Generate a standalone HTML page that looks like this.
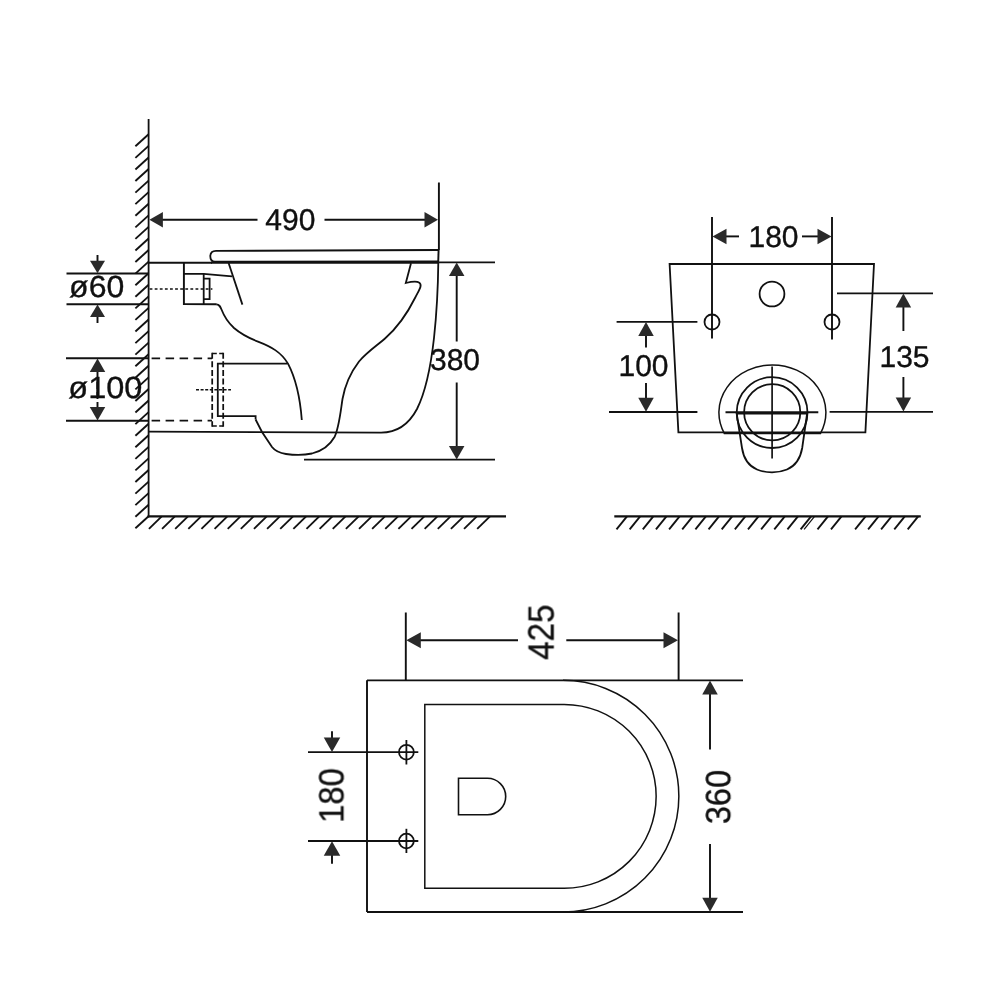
<!DOCTYPE html>
<html lang="en"><head><meta charset="utf-8"><title>Wall hung toilet dimensions</title>
<style>
html,body{margin:0;padding:0;background:#fff;}
body{width:1000px;height:1000px;overflow:hidden;}
svg{display:block;}
svg text{font-family:"Liberation Sans",sans-serif;fill:#101010;stroke:#101010;stroke-width:0.35px;text-rendering:geometricPrecision;}
</style></head><body>
<svg width="1000" height="1000" viewBox="0 0 1000 1000" fill="none" stroke="#111111" stroke-linecap="butt" stroke-linejoin="miter">
<rect x="0" y="0" width="1000" height="1000" fill="#ffffff" stroke="none"/>
<line x1="148.60" y1="119.00" x2="148.60" y2="517.30" stroke-width="1.80" />
<line x1="147.70" y1="516.30" x2="506.00" y2="516.30" stroke-width="2.16" />
<line x1="148.60" y1="516.30" x2="135.40" y2="528.30" stroke-width="1.86" />
<line x1="148.60" y1="504.72" x2="135.40" y2="516.72" stroke-width="1.86" />
<line x1="148.60" y1="493.15" x2="135.40" y2="505.15" stroke-width="1.86" />
<line x1="148.60" y1="481.57" x2="135.40" y2="493.57" stroke-width="1.86" />
<line x1="148.60" y1="470.00" x2="135.40" y2="482.00" stroke-width="1.86" />
<line x1="148.60" y1="458.42" x2="135.40" y2="470.42" stroke-width="1.86" />
<line x1="148.60" y1="446.84" x2="135.40" y2="458.84" stroke-width="1.86" />
<line x1="148.60" y1="435.27" x2="135.40" y2="447.27" stroke-width="1.86" />
<line x1="148.60" y1="423.69" x2="135.40" y2="435.69" stroke-width="1.86" />
<line x1="148.60" y1="412.12" x2="135.40" y2="424.12" stroke-width="1.86" />
<line x1="148.60" y1="400.54" x2="135.40" y2="412.54" stroke-width="1.86" />
<line x1="148.60" y1="388.96" x2="135.40" y2="400.96" stroke-width="1.86" />
<line x1="148.60" y1="377.39" x2="135.40" y2="389.39" stroke-width="1.86" />
<line x1="148.60" y1="365.81" x2="135.40" y2="377.81" stroke-width="1.86" />
<line x1="148.60" y1="354.24" x2="135.40" y2="366.24" stroke-width="1.86" />
<line x1="148.60" y1="342.66" x2="135.40" y2="354.66" stroke-width="1.86" />
<line x1="148.60" y1="331.08" x2="135.40" y2="343.08" stroke-width="1.86" />
<line x1="148.60" y1="319.51" x2="135.40" y2="331.51" stroke-width="1.86" />
<line x1="148.60" y1="307.93" x2="135.40" y2="319.93" stroke-width="1.86" />
<line x1="148.60" y1="296.36" x2="135.40" y2="308.36" stroke-width="1.86" />
<line x1="148.60" y1="284.78" x2="135.40" y2="296.78" stroke-width="1.86" />
<line x1="148.60" y1="273.20" x2="135.40" y2="285.20" stroke-width="1.86" />
<line x1="148.60" y1="261.63" x2="135.40" y2="273.63" stroke-width="1.86" />
<line x1="148.60" y1="250.05" x2="135.40" y2="262.05" stroke-width="1.86" />
<line x1="148.60" y1="238.48" x2="135.40" y2="250.48" stroke-width="1.86" />
<line x1="148.60" y1="226.90" x2="135.40" y2="238.90" stroke-width="1.86" />
<line x1="148.60" y1="215.32" x2="135.40" y2="227.32" stroke-width="1.86" />
<line x1="148.60" y1="203.75" x2="135.40" y2="215.75" stroke-width="1.86" />
<line x1="148.60" y1="192.17" x2="135.40" y2="204.17" stroke-width="1.86" />
<line x1="148.60" y1="180.60" x2="135.40" y2="192.60" stroke-width="1.86" />
<line x1="148.60" y1="169.02" x2="135.40" y2="181.02" stroke-width="1.86" />
<line x1="148.60" y1="157.44" x2="135.40" y2="169.44" stroke-width="1.86" />
<line x1="148.60" y1="145.87" x2="135.40" y2="157.87" stroke-width="1.86" />
<line x1="148.60" y1="134.29" x2="135.40" y2="146.29" stroke-width="1.86" />
<line x1="161.73" y1="516.30" x2="148.93" y2="528.90" stroke-width="1.86" />
<line x1="174.86" y1="516.30" x2="162.06" y2="528.90" stroke-width="1.86" />
<line x1="187.99" y1="516.30" x2="175.19" y2="528.90" stroke-width="1.86" />
<line x1="201.12" y1="516.30" x2="188.32" y2="528.90" stroke-width="1.86" />
<line x1="214.25" y1="516.30" x2="201.45" y2="528.90" stroke-width="1.86" />
<line x1="227.38" y1="516.30" x2="214.58" y2="528.90" stroke-width="1.86" />
<line x1="240.51" y1="516.30" x2="227.71" y2="528.90" stroke-width="1.86" />
<line x1="253.64" y1="516.30" x2="240.84" y2="528.90" stroke-width="1.86" />
<line x1="266.77" y1="516.30" x2="253.97" y2="528.90" stroke-width="1.86" />
<line x1="279.90" y1="516.30" x2="267.10" y2="528.90" stroke-width="1.86" />
<line x1="293.03" y1="516.30" x2="280.23" y2="528.90" stroke-width="1.86" />
<line x1="306.16" y1="516.30" x2="293.36" y2="528.90" stroke-width="1.86" />
<line x1="319.29" y1="516.30" x2="306.49" y2="528.90" stroke-width="1.86" />
<line x1="332.42" y1="516.30" x2="319.62" y2="528.90" stroke-width="1.86" />
<line x1="345.55" y1="516.30" x2="332.75" y2="528.90" stroke-width="1.86" />
<line x1="358.68" y1="516.30" x2="345.88" y2="528.90" stroke-width="1.86" />
<line x1="371.81" y1="516.30" x2="359.01" y2="528.90" stroke-width="1.86" />
<line x1="384.94" y1="516.30" x2="372.14" y2="528.90" stroke-width="1.86" />
<line x1="398.07" y1="516.30" x2="385.27" y2="528.90" stroke-width="1.86" />
<line x1="411.20" y1="516.30" x2="398.40" y2="528.90" stroke-width="1.86" />
<line x1="424.33" y1="516.30" x2="411.53" y2="528.90" stroke-width="1.86" />
<line x1="437.46" y1="516.30" x2="424.66" y2="528.90" stroke-width="1.86" />
<line x1="450.59" y1="516.30" x2="437.79" y2="528.90" stroke-width="1.86" />
<line x1="463.72" y1="516.30" x2="450.92" y2="528.90" stroke-width="1.86" />
<line x1="476.85" y1="516.30" x2="464.05" y2="528.90" stroke-width="1.86" />
<line x1="489.98" y1="516.30" x2="477.18" y2="528.90" stroke-width="1.86" />
<line x1="438.90" y1="182.50" x2="438.90" y2="250.00" stroke-width="1.92" />
<line x1="158.60" y1="219.80" x2="257.50" y2="219.80" stroke-width="1.92" />
<line x1="324.50" y1="219.80" x2="425.00" y2="219.80" stroke-width="1.92" />
<polygon points="149.40,219.80 162.90,212.05 162.90,227.55" fill="#2a2a2a" stroke="none"/>
<polygon points="438.00,219.80 424.50,212.05 424.50,227.55" fill="#2a2a2a" stroke="none"/>
<line x1="148.60" y1="262.80" x2="212.00" y2="262.80" stroke-width="1.92" />
<path d="M438.5,250 L216,250.9 Q210.3,251 210.3,256.3 Q210.3,261.6 215,261.6 L438.3,261.5" stroke-width="1.80" />
<line x1="211.00" y1="262.60" x2="438.50" y2="262.60" stroke-width="2.28" />
<line x1="438.60" y1="250.00" x2="438.20" y2="262.60" stroke-width="1.92" />
<line x1="438.50" y1="262.30" x2="495.00" y2="262.30" stroke-width="1.68" />
<line x1="304.00" y1="459.60" x2="495.00" y2="459.60" stroke-width="1.80" />
<line x1="456.70" y1="275.00" x2="456.70" y2="341.50" stroke-width="1.92" />
<line x1="456.70" y1="382.50" x2="456.70" y2="447.00" stroke-width="1.92" />
<polygon points="456.70,262.60 448.95,276.10 464.45,276.10" fill="#2a2a2a" stroke="none"/>
<polygon points="456.70,459.40 448.95,445.90 464.45,445.90" fill="#2a2a2a" stroke="none"/>
<path d="M183.9,262.8 L183.9,304 L216.5,304.3" stroke-width="1.92" />
<path d="M183.9,273.8 L203.7,273.8 L232,276.4" stroke-width="1.80" />
<line x1="203.70" y1="273.80" x2="203.70" y2="304.20" stroke-width="1.80" />
<path d="M203.7,278.6 L209.6,278.6 L209.6,299.2 L203.7,299.2" stroke-width="1.80" />
<line x1="149.60" y1="289.00" x2="212.40" y2="289.00" stroke-width="1.56" stroke-dasharray="2.8 2.3"/>
<line x1="228.60" y1="263.00" x2="242.40" y2="304.60" stroke-width="1.80" />
<path d="M216.3,304.3 C219.5,304.5 220.3,306.5 221.5,309.5 C224,316 228,322.5 234,328 C241,334 250,338.5 258,341.6 C271,346.6 281,352 288,363.6 C295,377 300,396 301.8,420" stroke-width="1.80" />
<line x1="66.50" y1="273.50" x2="148.60" y2="273.50" stroke-width="2.04" />
<line x1="66.50" y1="304.20" x2="148.60" y2="304.20" stroke-width="2.04" />
<line x1="97.50" y1="255.00" x2="97.50" y2="262.00" stroke-width="1.92" />
<line x1="97.50" y1="316.00" x2="97.50" y2="323.00" stroke-width="1.92" />
<polygon points="97.50,273.20 90.00,260.70 105.00,260.70" fill="#2a2a2a" stroke="none"/>
<polygon points="97.50,304.60 90.00,317.10 105.00,317.10" fill="#2a2a2a" stroke="none"/>
<line x1="66.00" y1="358.20" x2="148.60" y2="358.20" stroke-width="1.92" />
<line x1="66.00" y1="420.80" x2="148.60" y2="420.80" stroke-width="1.92" />
<line x1="151.60" y1="358.40" x2="212.00" y2="358.40" stroke-width="1.74" stroke-dasharray="8.5 5.5"/>
<line x1="151.60" y1="420.60" x2="212.00" y2="420.60" stroke-width="1.74" stroke-dasharray="8.5 5.5"/>
<line x1="212.20" y1="353.50" x2="223.20" y2="353.50" stroke-width="1.74" stroke-dasharray="4.6 2.4"/>
<line x1="212.20" y1="426.00" x2="223.20" y2="426.00" stroke-width="1.74" stroke-dasharray="4.6 2.4"/>
<line x1="212.20" y1="352.80" x2="212.20" y2="426.70" stroke-width="1.74" stroke-dasharray="6 2.55"/>
<line x1="223.20" y1="352.80" x2="223.20" y2="426.70" stroke-width="1.74" stroke-dasharray="6 2.55"/>
<path d="M287.5,363.7 L217.8,363.7 L217.8,416.2 L255.6,416.2 L255.6,419.5" stroke-width="1.80" />
<line x1="196.00" y1="389.80" x2="231.00" y2="389.80" stroke-width="1.62" stroke-dasharray="3 1.6"/>
<line x1="97.50" y1="372.00" x2="97.50" y2="407.00" stroke-width="1.92" stroke-dasharray="7 3"/>
<polygon points="97.50,358.50 89.75,372.00 105.25,372.00" fill="#2a2a2a" stroke="none"/>
<polygon points="97.50,420.50 89.75,407.00 105.25,407.00" fill="#2a2a2a" stroke="none"/>
<path d="M255.6,419.5 L262,432 L272,447 C275.5,451.5 279,453 286,454 C293,455 305,455 312,453.5 C322,451 330,445 334.5,437 C339,428 340.5,412 342.5,399 C345,385 351,372 359,361.5 C367,352 377,345.5 385,338.5 C397,328 408,312 415,298 C419,290 423,285 419,282.5 C416,280.5 411,281.7 405.8,283 L411,263.3" stroke-width="1.80" />
<path d="M148.7,431.6 L380,432.6 C398,433 409,424 417,409 C426,391 431,365 434,338 C436.5,315 438,290 438.3,262.6" stroke-width="1.80" />
<line x1="614.30" y1="516.30" x2="920.80" y2="516.30" stroke-width="2.16" />
<line x1="627.00" y1="516.30" x2="616.50" y2="529.30" stroke-width="1.86" />
<line x1="640.15" y1="516.30" x2="629.65" y2="529.30" stroke-width="1.86" />
<line x1="653.30" y1="516.30" x2="642.80" y2="529.30" stroke-width="1.86" />
<line x1="666.45" y1="516.30" x2="655.95" y2="529.30" stroke-width="1.86" />
<line x1="679.60" y1="516.30" x2="669.10" y2="529.30" stroke-width="1.86" />
<line x1="692.75" y1="516.30" x2="682.25" y2="529.30" stroke-width="1.86" />
<line x1="705.90" y1="516.30" x2="695.40" y2="529.30" stroke-width="1.86" />
<line x1="719.05" y1="516.30" x2="708.55" y2="529.30" stroke-width="1.86" />
<line x1="732.20" y1="516.30" x2="721.70" y2="529.30" stroke-width="1.86" />
<line x1="745.35" y1="516.30" x2="734.85" y2="529.30" stroke-width="1.86" />
<line x1="758.50" y1="516.30" x2="748.00" y2="529.30" stroke-width="1.86" />
<line x1="771.65" y1="516.30" x2="761.15" y2="529.30" stroke-width="1.86" />
<line x1="784.80" y1="516.30" x2="774.30" y2="529.30" stroke-width="1.86" />
<line x1="797.95" y1="516.30" x2="787.45" y2="529.30" stroke-width="1.86" />
<line x1="811.10" y1="516.30" x2="800.60" y2="529.30" stroke-width="1.86" />
<line x1="828.00" y1="516.30" x2="817.50" y2="529.30" stroke-width="1.86" />
<line x1="841.50" y1="516.30" x2="831.00" y2="529.30" stroke-width="1.86" />
<line x1="865.60" y1="516.30" x2="855.10" y2="529.30" stroke-width="1.86" />
<line x1="878.60" y1="516.30" x2="868.10" y2="529.30" stroke-width="1.86" />
<line x1="891.60" y1="516.30" x2="881.10" y2="529.30" stroke-width="1.86" />
<line x1="904.80" y1="516.30" x2="894.30" y2="529.30" stroke-width="1.86" />
<line x1="918.20" y1="516.30" x2="907.70" y2="529.30" stroke-width="1.86" />
<line x1="814.60" y1="516.30" x2="804.10" y2="529.30" stroke-width="1.20" />
<path d="M669.6,264 L874,264 L865.4,432.4 L678.4,432.4 Z" stroke-width="1.80" />
<circle cx="772" cy="294" r="12.4" stroke-width="1.80"/>
<circle cx="712" cy="322" r="7.5" stroke-width="1.80"/>
<circle cx="832" cy="322" r="7.5" stroke-width="1.80"/>
<line x1="712.00" y1="217.00" x2="712.00" y2="338.50" stroke-width="1.92" />
<line x1="832.00" y1="217.00" x2="832.00" y2="339.50" stroke-width="1.92" />
<line x1="726.00" y1="236.40" x2="739.00" y2="236.40" stroke-width="1.92" />
<line x1="802.00" y1="236.40" x2="818.00" y2="236.40" stroke-width="1.92" />
<polygon points="712.50,236.40 726.50,228.65 726.50,244.15" fill="#2a2a2a" stroke="none"/>
<polygon points="831.50,236.40 817.50,228.65 817.50,244.15" fill="#2a2a2a" stroke="none"/>
<line x1="616.60" y1="321.80" x2="697.40" y2="321.80" stroke-width="1.80" />
<line x1="609.00" y1="412.00" x2="697.40" y2="412.00" stroke-width="1.80" />
<line x1="646.00" y1="335.00" x2="646.00" y2="347.60" stroke-width="1.92" />
<line x1="646.00" y1="383.00" x2="646.00" y2="399.00" stroke-width="1.92" />
<polygon points="646.00,322.00 638.25,336.00 653.75,336.00" fill="#2a2a2a" stroke="none"/>
<polygon points="646.00,411.80 638.25,397.80 653.75,397.80" fill="#2a2a2a" stroke="none"/>
<line x1="837.00" y1="293.40" x2="933.00" y2="293.40" stroke-width="1.80" />
<line x1="829.60" y1="411.80" x2="933.00" y2="411.80" stroke-width="1.80" />
<line x1="903.40" y1="307.00" x2="903.40" y2="331.00" stroke-width="1.92" />
<line x1="903.40" y1="377.00" x2="903.40" y2="399.00" stroke-width="1.92" />
<polygon points="903.40,293.60 895.65,307.60 911.15,307.60" fill="#2a2a2a" stroke="none"/>
<polygon points="903.40,411.60 895.65,397.60 911.15,397.60" fill="#2a2a2a" stroke="none"/>
<path d="M724.3,433.4 A53.5,47.6 0 1 1 820.5,433.4 Z" stroke-width="1.5"/>
<circle cx="772.1" cy="412.6" r="35.4" stroke-width="1.80"/>
<circle cx="772.2" cy="412.3" r="28.1" stroke-width="1.80"/>
<line x1="772.10" y1="366.50" x2="772.10" y2="458.50" stroke-width="1.68" />
<line x1="725.50" y1="412.20" x2="818.30" y2="412.20" stroke-width="1.92" />
<path d="M736.7,413.7 L807.1,413.7 L802.2,448 C800.5,458 795,466 787,469.5 C778,473.3 766,473.3 757,469.5 C749,466 743.5,458 742,448 Z" stroke-width="1.80" />
<line x1="367.00" y1="680.30" x2="743.00" y2="680.30" stroke-width="1.80" />
<line x1="367.00" y1="912.00" x2="743.00" y2="912.00" stroke-width="1.80" />
<line x1="367.00" y1="680.30" x2="367.00" y2="912.00" stroke-width="1.92" />
<path d="M563,680.3 A50,50 0 0 1 563,912" stroke-width="1.5"/>
<path d="M564.2,704.4 L424.8,704.4 L424.8,888.3 L564.2,888.3 A50,50 0 0 0 564.2,704.4 Z" stroke-width="1.5"/>
<path d="M487.5,778.3 L458.5,778.3 L458.5,814.7 L487.5,814.7 A9,9 0 0 0 487.5,778.3 Z" stroke-width="1.6"/>
<line x1="405.80" y1="612.50" x2="405.80" y2="680.30" stroke-width="1.92" />
<line x1="678.60" y1="612.50" x2="678.60" y2="680.30" stroke-width="1.92" />
<line x1="419.00" y1="640.20" x2="518.00" y2="640.20" stroke-width="1.92" />
<line x1="566.30" y1="640.20" x2="665.00" y2="640.20" stroke-width="1.92" />
<polygon points="406.30,640.20 420.80,632.20 420.80,648.20" fill="#2a2a2a" stroke="none"/>
<polygon points="678.00,640.20 663.50,632.20 663.50,648.20" fill="#2a2a2a" stroke="none"/>
<line x1="710.00" y1="693.00" x2="710.00" y2="749.50" stroke-width="1.92" />
<line x1="710.00" y1="844.00" x2="710.00" y2="899.00" stroke-width="1.92" />
<polygon points="710.00,680.50 702.25,694.50 717.75,694.50" fill="#2a2a2a" stroke="none"/>
<polygon points="710.00,911.80 702.25,897.80 717.75,897.80" fill="#2a2a2a" stroke="none"/>
<line x1="308.00" y1="752.20" x2="418.30" y2="752.20" stroke-width="1.80" />
<line x1="308.00" y1="841.00" x2="418.30" y2="841.00" stroke-width="1.80" />
<circle cx="406.4" cy="752.2" r="7.4" stroke-width="1.80"/>
<circle cx="406.4" cy="841" r="7.4" stroke-width="1.80"/>
<line x1="406.40" y1="740.00" x2="406.40" y2="764.50" stroke-width="1.80" />
<line x1="406.40" y1="828.80" x2="406.40" y2="853.00" stroke-width="1.80" />
<line x1="332.00" y1="731.20" x2="332.00" y2="738.00" stroke-width="1.92" />
<line x1="332.00" y1="855.00" x2="332.00" y2="863.80" stroke-width="1.92" />
<polygon points="332.00,752.00 323.75,737.50 340.25,737.50" fill="#2a2a2a" stroke="none"/>
<polygon points="332.00,841.20 323.75,855.70 340.25,855.70" fill="#2a2a2a" stroke="none"/>
<g opacity="0.999">
<text transform="translate(290.30,219.40) scale(1.0,1)" x="0" y="10.74" font-size="30" text-anchor="middle">490</text>
<text transform="translate(455.00,359.50) scale(1.0,1)" x="0" y="10.74" font-size="30" text-anchor="middle">380</text>
<text transform="translate(96.70,286.00) scale(1.05,1)" x="0" y="10.92" font-size="30.5" text-anchor="middle">ø60</text>
<text transform="translate(105.40,387.30) scale(1.065,1)" x="0" y="10.92" font-size="30.5" text-anchor="middle">ø100</text>
<text transform="translate(773.50,236.30) scale(1.0,1)" x="0" y="10.74" font-size="30" text-anchor="middle">180</text>
<text transform="translate(643.50,365.60) scale(1.0,1)" x="0" y="10.74" font-size="30" text-anchor="middle">100</text>
<text transform="translate(904.50,356.50) scale(1.0,1)" x="0" y="10.74" font-size="30" text-anchor="middle">135</text>
<text transform="translate(540.60,632.20) rotate(-90) scale(0.91,1)" x="0" y="13.07" font-size="36.5" text-anchor="middle">425</text>
<text transform="translate(717.20,797.00) rotate(-90) scale(0.93,1)" x="0" y="12.53" font-size="35" text-anchor="middle">360</text>
<text transform="translate(330.40,795.60) rotate(-90) scale(0.935,1)" x="0" y="12.53" font-size="35" text-anchor="middle">180</text>
</g>
</svg>
</body></html>
